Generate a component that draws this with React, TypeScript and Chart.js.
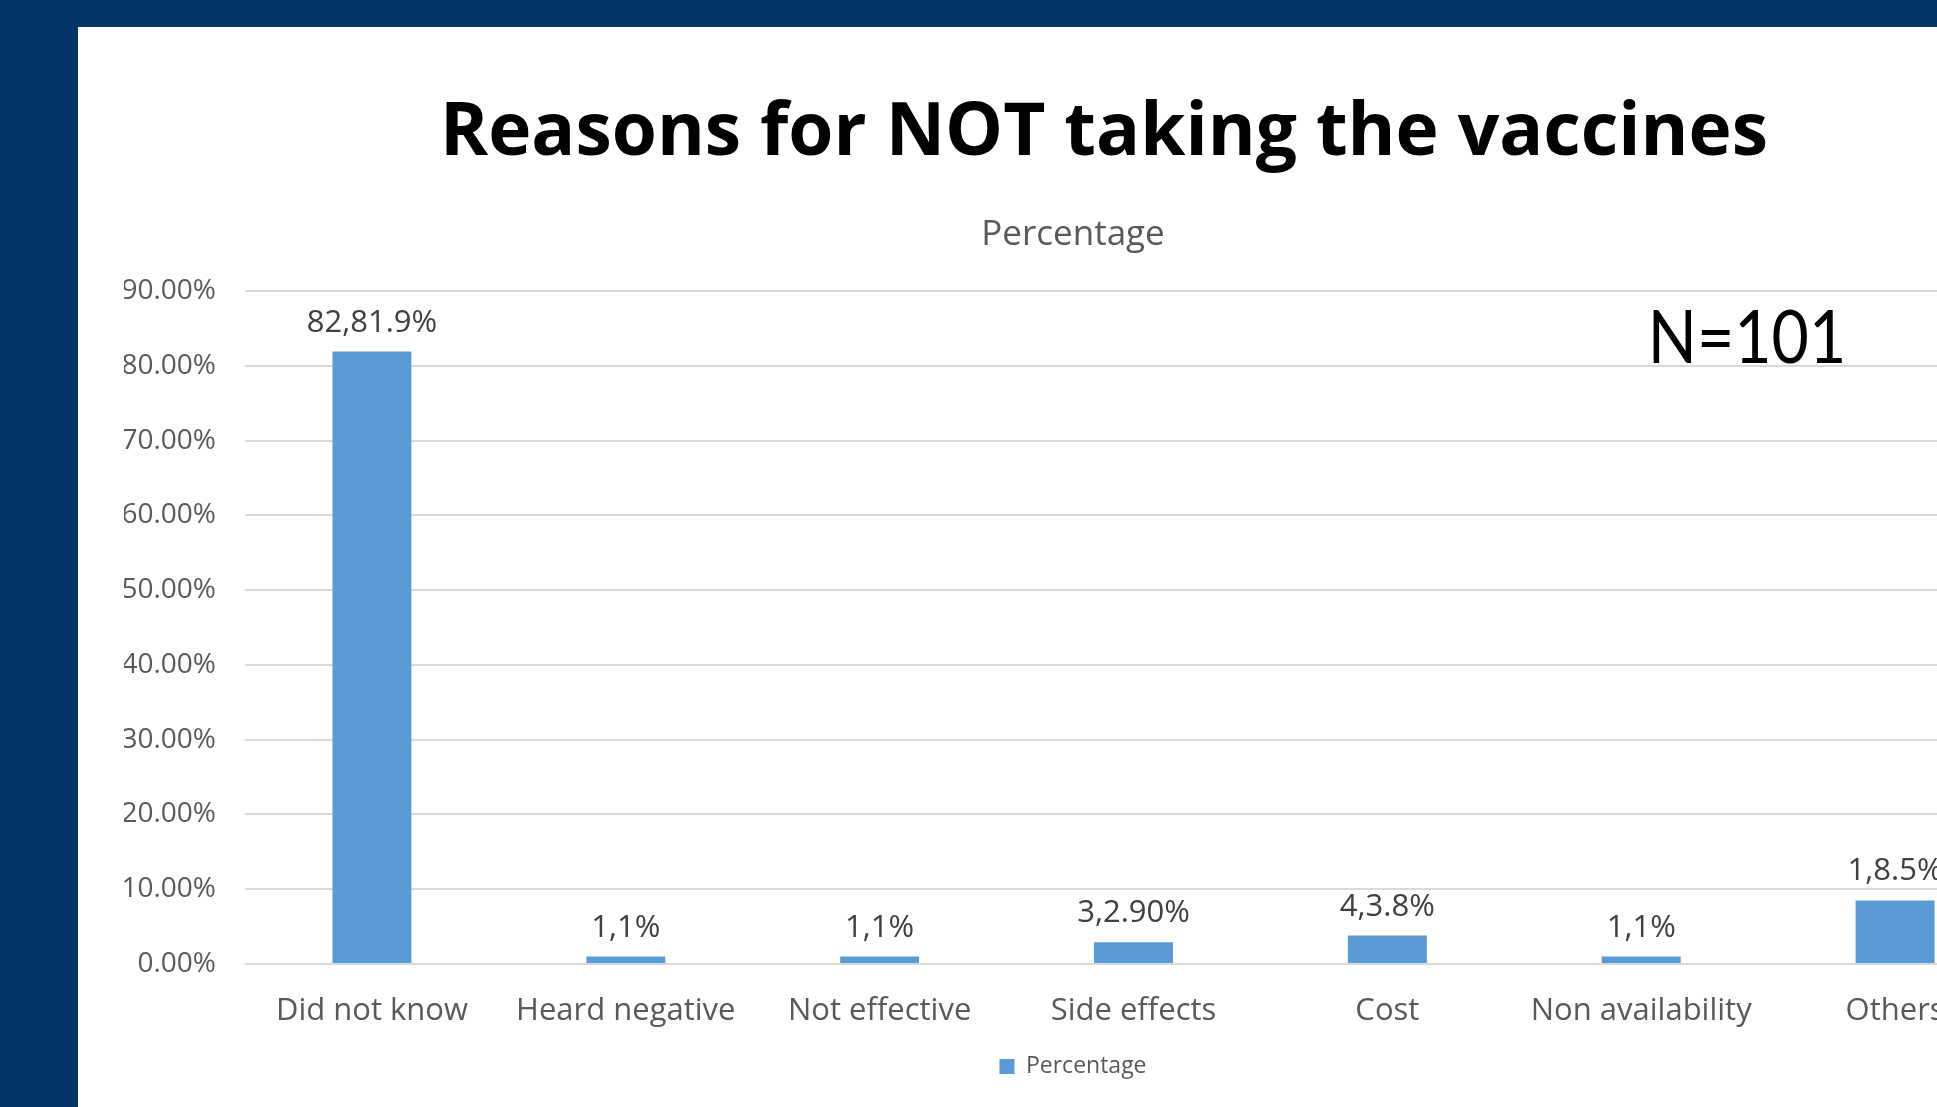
import React, { useEffect, useRef } from "react";
import { Chart, registerables } from "chart.js";

Chart.register(...registerables);

const slideTitle = "Reasons for NOT taking the vaccines";
const chartTitle = "Percentage";
const seriesName = "Percentage";
const sampleNote = "N=101";
const categories = [
  "Did not know",
  "Heard negative",
  "Not effective",
  "Side effects",
  "Cost",
  "Non availability",
  "Others",
];
const percentages = [81.9, 1, 1, 2.9, 3.8, 1, 8.5];
const dataLabels = ["82,81.9%", "1,1%", "1,1%", "3,2.90%", "4,3.8%", "1,1%", "1,8.5%"];
const yMin = 0;
const yMax = 90;
const yStep = 10;

const FONT = '"Open Sans", "Noto Sans", sans-serif';

const barLabelPlugin = {
  id: "barLabels",
  afterDatasetsDraw(chart: any) {
    const ctx = chart.ctx;
    const meta = chart.getDatasetMeta(0);
    ctx.save();
    ctx.font = `31px ${FONT}`;
    ctx.fillStyle = "#404040";
    ctx.textAlign = "center";
    ctx.textBaseline = "alphabetic";
    meta.data.forEach((el: any, i: number) => {
      ctx.fillText(dataLabels[i], el.x, el.y - 20);
    });
    ctx.restore();
  },
};

function BarChart() {
  const ref = useRef<HTMLCanvasElement | null>(null);
  useEffect(() => {
    if (!ref.current) return;
    const chart = new Chart(ref.current, {
      type: "bar",
      data: {
        labels: categories,
        datasets: [
          {
            label: seriesName,
            data: percentages,
            backgroundColor: "#5B9BD5",
            borderWidth: 0,
            categoryPercentage: 1,
            barPercentage: 0.311,
          },
        ],
      },
      options: {
        responsive: false,
        animation: false,
        devicePixelRatio: 1,
        layout: { padding: { left: 24, right: 0, top: 0, bottom: 12 } },
        plugins: {
          title: {
            display: true,
            text: chartTitle,
            color: "#595959",
            font: { family: FONT, size: 35, weight: "normal" },
            padding: { top: 24, bottom: 35 },
          },
          legend: {
            display: true,
            position: "bottom",
            labels: {
              color: "#595959",
              font: { family: FONT, size: 23 },
              boxWidth: 15,
              boxHeight: 15,
              padding: 20,
            },
          },
          tooltip: { enabled: false },
        },
        scales: {
          x: {
            grid: { display: false, drawTicks: false },
            border: { display: false },
            ticks: {
              color: "#595959",
              font: { family: FONT, size: 31 },
              padding: 29,
              maxRotation: 0,
              autoSkip: false,
            },
            afterFit: (s: any) => {
              s.height = 71;
            },
          },
          y: {
            min: yMin,
            max: yMax,
            grid: { color: "#d9d9d9", lineWidth: 2, drawTicks: false },
            border: { display: false },
            ticks: {
              stepSize: yStep,
              color: "#595959",
              font: { family: FONT, size: 28 },
              padding: 29,
              callback: (v: any) => Number(v).toFixed(2) + "%",
            },
            afterFit: (s: any) => {
              s.width = 121;
            },
          },
        },
      },
      plugins: [barLabelPlugin],
    });
    return () => chart.destroy();
  }, []);
  return (
    <canvas
      ref={ref}
      width={1922}
      height={910}
      style={{ display: "block", width: 1922, height: 910 }}
    />
  );
}

export default function App() {
  return (
    <div
      style={{
        position: "fixed",
        left: 0,
        top: 0,
        width: "100vw",
        height: "100vh",
        overflow: "hidden",
        background: "#013366",
      }}
    >
      <div
        style={{
          position: "absolute",
          left: 78,
          top: 27,
          right: 0,
          bottom: 0,
          background: "#ffffff",
        }}
      />
      <div style={{ position: "absolute", left: 100, top: 190 }}>
        <BarChart />
      </div>
      <div
        style={{
          position: "absolute",
          left: 104,
          top: 90,
          width: 2000,
          textAlign: "center",
          fontFamily: FONT,
          fontWeight: 700,
          fontSize: 73,
          lineHeight: 1,
          color: "#000000",
          whiteSpace: "nowrap",
        }}
      >
        {slideTitle}
      </div>
      <div
        style={{
          position: "absolute",
          left: 1547,
          top: 298,
          width: 400,
          textAlign: "center",
          fontFamily: "Lato, sans-serif",
          fontSize: 74,
          lineHeight: 1,
          color: "#000000",
          whiteSpace: "nowrap",
          transform: "scaleX(0.87)",
          transformOrigin: "center",
        }}
      >
        {sampleNote}
      </div>
    </div>
  );
}
